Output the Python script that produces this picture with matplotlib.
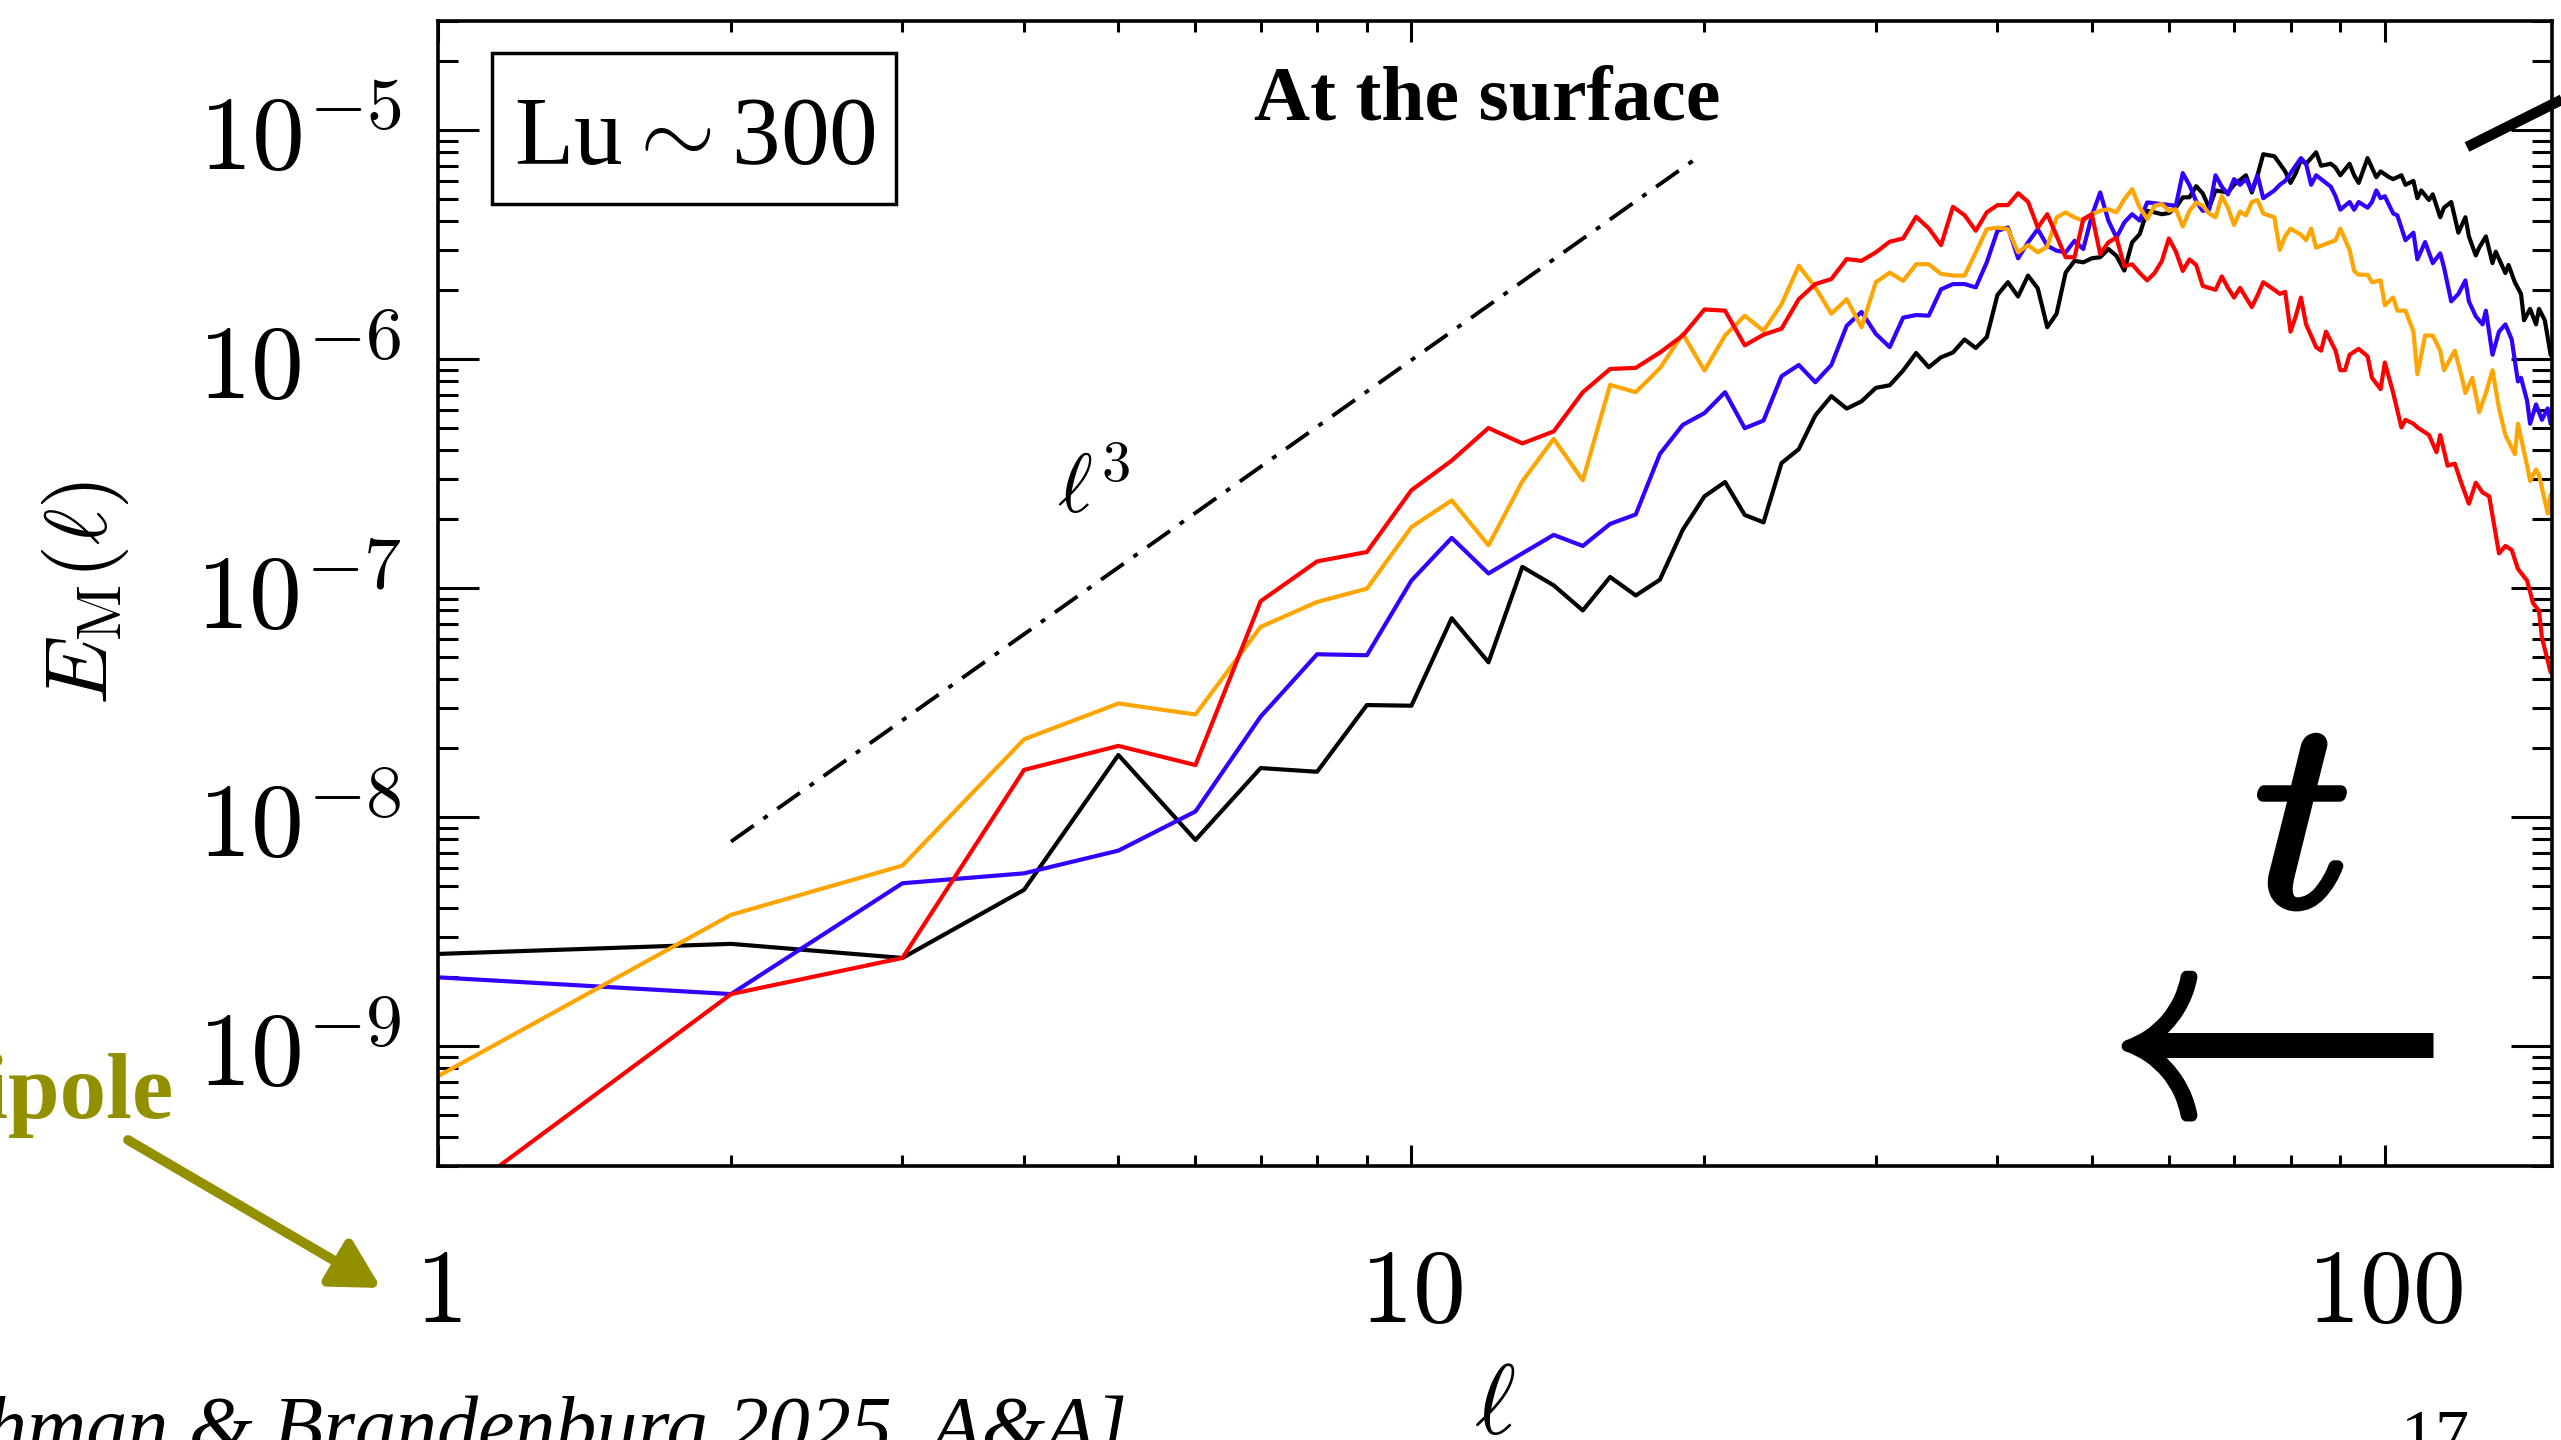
#!/usr/bin/env python3
import numpy as np
import matplotlib
matplotlib.use("Agg")
import matplotlib.pyplot as plt
import matplotlib.patheffects as pe
from matplotlib.lines import Line2D
from matplotlib.patches import Rectangle, FancyArrowPatch
from matplotlib.ticker import FixedLocator, FixedFormatter, LogLocator, NullFormatter


# spectra E_M(l) at the surface, four times
ell_black = [1, 2, 3, 4, 5, 6, 7, 8, 9, 10, 11, 12, 13, 14, 15, 16, 17, 18, 19, 20,
             21, 22, 23, 24, 25, 26, 27, 28, 29, 30, 31, 32, 33, 34, 35, 36, 37, 38, 39, 40,
             41, 42, 43, 44, 45, 46, 47, 48, 49, 50, 51, 52, 53, 54, 55, 56, 57, 58, 59, 60,
             61, 62, 63, 64, 65, 66, 67, 69, 70, 72, 73, 74, 75, 77, 78, 79, 80, 81, 82, 83,
             84, 85, 86, 88, 89, 90, 92, 93, 94, 96, 98, 99, 101, 102, 104, 105, 107, 108, 109, 111,
             112, 114, 115, 117, 119, 121, 122, 124, 125, 127, 129, 130, 133, 134, 136, 138, 139, 141, 143, 144,
             146, 148, 149]
em_black = [2.53e-9, 2.80e-9, 2.43e-9, 4.82e-9, 1.87e-8, 7.96e-9, 1.64e-8, 1.58e-8, 3.09e-8, 3.07e-8,
            7.4e-8, 4.75e-8, 1.24e-7, 1.03e-7, 8.0e-8, 1.12e-7, 9.3e-8, 1.09e-7, 1.8e-7, 2.52e-7,
            2.91e-7, 2.09e-7, 1.94e-7, 3.52e-7, 4.05e-7, 5.69e-7, 6.9e-7, 6.09e-7, 6.55e-7, 7.5e-7,
            7.7e-7, 8.93e-7, 1.065e-6, 9.23e-7, 1.02e-6, 1.07e-6, 1.22e-6, 1.12e-6, 1.25e-6, 1.91e-6,
            2.17e-6, 1.88e-6, 2.32e-6, 2.04e-6, 1.38e-6, 1.58e-6, 2.39e-6, 2.69e-6, 2.65e-6, 2.76e-6,
            2.79e-6, 3.03e-6, 2.83e-6, 2.44e-6, 3.24e-6, 3.52e-6, 4.45e-6, 4.38e-6, 4.30e-6, 4.35e-6,
            4.60e-6, 5.09e-6, 5.1e-6, 5.7e-6, 5.3e-6, 4.59e-6, 5.46e-6, 5.35e-6, 5.78e-6, 6.36e-6,
            5.35e-6, 6.36e-6, 7.86e-6, 7.7e-6, 7.14e-6, 6.61e-6, 5.89e-6, 6.49e-6, 7.42e-6, 7.14e-6,
            7.56e-6, 8.01e-6, 7.0e-6, 7.14e-6, 6.87e-6, 6.36e-6, 7.14e-6, 6.36e-6, 5.89e-6, 7.56e-6,
            6.24e-6, 6.61e-6, 6.24e-6, 6.12e-6, 6.36e-6, 5.78e-6, 6.01e-6, 5.05e-6, 5.46e-6, 4.96e-6,
            5.25e-6, 4.17e-6, 4.59e-6, 4.86e-6, 3.57e-6, 4.17e-6, 3.44e-6, 2.84e-6, 3.07e-6, 3.44e-6,
            2.63e-6, 2.95e-6, 2.38e-6, 2.58e-6, 2.17e-6, 1.93e-6, 1.48e-6, 1.66e-6, 1.42e-6, 1.66e-6,
            1.48e-6, 1.05e-6, 1.0e-6]

ell_blue = [1, 2, 3, 4, 5, 6, 7, 8, 9, 10, 11, 12, 13, 14, 15, 16, 17, 18, 19, 20,
            21, 22, 23, 24, 25, 26, 27, 28, 29, 30, 31, 32, 33, 34, 35, 36, 37, 38, 39, 40,
            41, 42, 43, 44, 45, 46, 47, 48, 49, 50, 51, 52, 53, 54, 55, 56, 57, 58, 59, 60,
            61, 62, 63, 64, 65, 66, 67, 68, 69, 70, 71, 72, 73, 74, 75, 77, 78, 79, 80, 82,
            83, 84, 85, 86, 88, 89, 90, 92, 93, 94, 96, 97, 98, 99, 100, 102, 103, 105, 107, 108,
            110, 112, 114, 115, 117, 119, 121, 122, 124, 126, 127, 129, 131, 133, 135, 137, 138, 140, 141, 143,
            145, 147, 148, 149]
em_blue = [2.0e-9, 1.69e-9, 5.15e-9, 5.69e-9, 7.15e-9, 1.06e-8, 2.75e-8, 5.15e-8, 5.10e-8, 1.08e-7,
           1.66e-7, 1.16e-7, 1.42e-7, 1.71e-7, 1.53e-7, 1.91e-7, 2.10e-7, 3.86e-7, 5.17e-7, 5.82e-7,
           7.18e-7, 5.0e-7, 5.40e-7, 8.43e-7, 9.44e-7, 7.94e-7, 9.44e-7, 1.40e-6, 1.61e-6, 1.29e-6,
           1.13e-6, 1.52e-6, 1.56e-6, 1.55e-6, 2.02e-6, 2.13e-6, 2.13e-6, 2.06e-6, 2.65e-6, 3.64e-6,
           3.76e-6, 2.76e-6, 3.24e-6, 3.70e-6, 3.13e-6, 2.98e-6, 2.93e-6, 3.29e-6, 3.03e-6, 4.23e-6,
           5.35e-6, 4.03e-6, 3.40e-6, 3.96e-6, 4.30e-6, 4.03e-6, 4.84e-6, 4.8e-6, 4.76e-6, 4.72e-6,
           4.68e-6, 6.5e-6, 5.75e-6, 4.9e-6, 4.45e-6, 4.5e-6, 6.36e-6, 5.67e-6, 5.25e-6, 6.12e-6,
           5.78e-6, 6.12e-6, 5.46e-6, 6.36e-6, 5.05e-6, 5.46e-6, 5.78e-6, 6.01e-6, 6.49e-6, 7.56e-6,
           7.14e-6, 5.78e-6, 6.36e-6, 6.12e-6, 5.67e-6, 5.15e-6, 4.5e-6, 4.86e-6, 4.5e-6, 4.86e-6,
           4.59e-6, 4.86e-6, 5.46e-6, 5.05e-6, 5.15e-6, 4.33e-6, 4.25e-6, 3.31e-6, 3.57e-6, 2.73e-6,
           3.25e-6, 2.63e-6, 2.9e-6, 2.53e-6, 1.79e-6, 1.93e-6, 2.21e-6, 1.79e-6, 1.54e-6, 1.42e-6,
           1.63e-6, 1.046e-6, 1.32e-6, 1.42e-6, 1.22e-6, 8.0e-7, 8.3e-7, 6.59e-7, 5.23e-7, 6.35e-7,
           5.44e-7, 6.1e-7, 5.23e-7, 6.59e-7]

ell_orange = [1, 2, 3, 4, 5, 6, 7, 8, 9, 10, 11, 12, 13, 14, 15, 16, 17, 18, 19, 20,
              21, 22, 23, 24, 25, 26, 27, 28, 29, 30, 31, 32, 33, 34, 35, 36, 37, 38, 39, 40,
              41, 42, 43, 44, 45, 46, 47, 48, 49, 50, 51, 52, 53, 54, 55, 56, 57, 58, 59, 60,
              61, 62, 63, 64, 65, 66, 67, 68, 69, 70, 71, 72, 73, 74, 75, 77, 78, 79, 80, 82,
              83, 84, 85, 87, 89, 90, 92, 93, 94, 96, 97, 99, 100, 102, 103, 105, 107, 108, 110, 112,
              114, 115, 118, 120, 121, 123, 125, 127, 129, 131, 133, 136, 137, 140, 141, 143, 144, 147, 148, 149]
em_orange = [7.4e-10, 3.75e-9, 6.15e-9, 2.19e-8, 3.14e-8, 2.81e-8, 6.78e-8, 8.71e-8, 9.96e-8, 1.85e-7,
             2.42e-7, 1.54e-7, 2.93e-7, 4.49e-7, 2.96e-7, 7.73e-7, 7.18e-7, 9.14e-7, 1.29e-6, 8.93e-7,
             1.27e-6, 1.55e-6, 1.33e-6, 1.74e-6, 2.56e-6, 2.06e-6, 1.58e-6, 1.83e-6, 1.38e-6, 2.17e-6,
             2.39e-6, 2.2e-6, 2.60e-6, 2.60e-6, 2.36e-6, 2.32e-6, 2.32e-6, 2.93e-6, 3.70e-6, 3.76e-6,
             3.70e-6, 2.93e-6, 3.15e-6, 2.93e-6, 3.1e-6, 4.16e-6, 4.38e-6, 4.16e-6, 4.03e-6, 4.30e-6,
             4.45e-6, 4.52e-6, 4.38e-6, 5.0e-6, 5.53e-6, 4.60e-6, 4.1e-6, 4.68e-6, 4.76e-6, 4.45e-6,
             4.52e-6, 3.80e-6, 4.45e-6, 4.84e-6, 4.68e-6, 4.33e-6, 4.17e-6, 5.15e-6, 4.59e-6, 3.86e-6,
             4.42e-6, 4.25e-6, 4.86e-6, 4.96e-6, 4.33e-6, 4.17e-6, 3.0e-6, 3.44e-6, 3.72e-6, 3.5e-6,
             3.31e-6, 3.72e-6, 3.07e-6, 3.19e-6, 3.31e-6, 3.72e-6, 3.0e-6, 2.43e-6, 2.34e-6, 2.34e-6,
             2.17e-6, 2.21e-6, 1.72e-6, 1.86e-6, 1.63e-6, 1.63e-6, 1.32e-6, 8.6e-7, 1.27e-6, 1.27e-6,
             1.09e-6, 8.96e-7, 1.09e-6, 8.3e-7, 7.12e-7, 8.3e-7, 5.87e-7, 7.12e-7, 8.96e-7, 6.1e-7,
             4.67e-7, 3.85e-7, 5.23e-7, 3.43e-7, 2.94e-7, 3.30e-7, 3.12e-7, 2.12e-7, 2.57e-7, 2.5e-7]

ell_red = [1, 2, 3, 4, 5, 6, 7, 8, 9, 10, 11, 12, 13, 14, 15, 16, 17, 18, 19, 20,
           21, 22, 23, 24, 25, 26, 27, 28, 29, 30, 31, 32, 33, 34, 35, 36, 37, 38, 39, 40,
           41, 42, 43, 44, 45, 46, 47, 48, 49, 50, 51, 52, 53, 54, 55, 56, 57, 58, 59, 60,
           61, 62, 63, 64, 65, 67, 68, 69, 70, 71, 73, 74, 75, 77, 78, 79, 80, 81, 82, 83,
           85, 86, 87, 89, 90, 91, 92, 94, 96, 97, 99, 100, 102, 104, 105, 107, 108, 111, 113, 114,
           116, 118, 120, 122, 124, 126, 128, 131, 133, 135, 137, 140, 142, 144, 145, 147, 148, 149]
em_red = [1.9e-10, 1.69e-9, 2.43e-9, 1.61e-8, 2.05e-8, 1.69e-8, 8.78e-8, 1.31e-7, 1.44e-7, 2.68e-7,
          3.61e-7, 5.01e-7, 4.29e-7, 4.84e-7, 7.18e-7, 9.07e-7, 9.17e-7, 1.07e-6, 1.27e-6, 1.65e-6,
          1.63e-6, 1.15e-6, 1.28e-6, 1.36e-6, 1.83e-6, 2.13e-6, 2.24e-6, 2.74e-6, 2.69e-6, 2.93e-6,
          3.26e-6, 3.37e-6, 4.19e-6, 3.73e-6, 3.15e-6, 4.63e-6, 4.26e-6, 3.64e-6, 4.38e-6, 4.71e-6,
          4.71e-6, 5.31e-6, 4.87e-6, 3.76e-6, 4.30e-6, 3.46e-6, 2.79e-6, 2.79e-6, 4.09e-6, 4.30e-6,
          2.88e-6, 3.24e-6, 3.40e-6, 2.55e-6, 2.6e-6, 2.38e-6, 2.21e-6, 2.38e-6, 2.68e-6, 3.37e-6,
          2.95e-6, 2.43e-6, 2.73e-6, 2.58e-6, 2.09e-6, 2.01e-6, 2.3e-6, 2.05e-6, 1.86e-6, 2.05e-6,
          1.69e-6, 1.9e-6, 2.17e-6, 2.01e-6, 1.93e-6, 1.97e-6, 1.32e-6, 1.54e-6, 1.86e-6, 1.42e-6,
          1.13e-6, 1.09e-6, 1.32e-6, 1.09e-6, 8.96e-7, 8.96e-7, 1.046e-6, 1.11e-6, 1.03e-6, 8.3e-7,
          7.4e-7, 9.68e-7, 7.12e-7, 5.04e-7, 5.44e-7, 5.23e-7, 5.04e-7, 4.67e-7, 3.93e-7, 4.67e-7,
          3.43e-7, 3.5e-7, 2.83e-7, 2.34e-7, 2.89e-7, 2.62e-7, 2.52e-7, 1.42e-7, 1.53e-7, 1.47e-7,
          1.215e-7, 1.08e-7, 8.6e-8, 7.97e-8, 6.08e-8, 4.83e-8, 4.3e-8, 4.83e-8]

# l^3 guide line (end points)
ref_ell = [2.0, 19.5]
ref_em = [7.83e-9, 7.4e-6]

xticks = [1, 10, 100]
xtick_labels = ["$1$", "$10$", "$100$"]
yticks = [1e-9, 1e-8, 1e-7, 1e-6, 1e-5]
ytick_labels = ["$10^{-9}$", "$10^{-8}$", "$10^{-7}$", "$10^{-6}$", "$10^{-5}$"]

W, H = 2561, 1440
OLIVE = "#939000"
SERIF = "Liberation Serif"


def fx(px):
    return px / W


def fy(py):
    # pixel rows are counted from the top of the slide
    return 1 - py / H


def setup_axes(fig):
    ax = fig.add_axes([fx(438), fy(1166), 2114 / W, 1145 / H])
    ax.set_xscale("log")
    ax.set_yscale("log")
    ax.set_xlim(1, 148.5)
    ax.set_ylim(3e-10, 3e-5)

    ax.xaxis.set_major_locator(FixedLocator(xticks))
    ax.xaxis.set_major_formatter(FixedFormatter(xtick_labels))
    ax.xaxis.set_minor_locator(LogLocator(base=10, subs=np.arange(2, 10), numticks=50))
    ax.xaxis.set_minor_formatter(NullFormatter())
    ax.yaxis.set_major_locator(FixedLocator(yticks))
    ax.yaxis.set_major_formatter(FixedFormatter(ytick_labels))
    ax.yaxis.set_minor_locator(LogLocator(base=10, subs=np.arange(2, 10), numticks=50))
    ax.yaxis.set_minor_formatter(NullFormatter())

    ax.tick_params(which="both", direction="in", top=True, right=True,
                   width=2.2, color="black")
    ax.tick_params(axis="x", which="major", length=15, pad=55, labelsize=76)
    ax.tick_params(axis="x", which="minor", length=8)
    ax.tick_params(axis="y", which="major", length=29.5, pad=26, labelsize=76)
    ax.tick_params(axis="y", which="minor", length=14.4)
    for s in ax.spines.values():
        s.set_linewidth(2.6)

    ax.set_xlabel(r"$\ell$", fontsize=71)
    ax.xaxis.set_label_coords(0.5, (1166 - 1358) / 1145)
    ax.set_ylabel(r"$E_{\rm M}(\ell)$", fontsize=63)
    ax.yaxis.set_label_coords((131 - 438) / 2114, 0.5)
    return ax


def plot_spectra(ax):
    lw = 3.0
    ax.plot(ell_black, em_black, color="black", lw=lw)
    ax.plot(ell_blue, em_blue, color="#3300ff", lw=lw)
    ax.plot(ell_orange, em_orange, color="#ffa500", lw=lw)
    ax.plot(ell_red, em_red, color="#ff0000", lw=lw)
    ax.plot(ref_ell, ref_em, color="black", lw=2.8,
            dashes=[20, 8.6, 3.6, 8.6], dash_capstyle="butt")


def annotate_slide(fig):
    # boxed Lundquist number
    fig.add_artist(Rectangle((fx(492), fy(204)), (896 - 492) / W, (204 - 53) / H,
                             transform=fig.transFigure, fill=False, lw=2.5,
                             edgecolor="black"))
    fig.text(fx(695), fy(164), r"Lu$\sim$300", ha="center", va="baseline",
             family=SERIF, fontsize=70)

    fig.text(fx(1487), fy(119), "At the surface", ha="center", va="baseline",
             family=SERIF, fontweight="bold", fontsize=56)

    fig.text(fx(1094), fy(490), r"$\ell^3$", ha="center", va="center", fontsize=60)

    # time arrow
    tt = fig.text(fx(2300), fy(906), r"$t$", ha="center", va="baseline", fontsize=194)
    tt.set_path_effects([pe.Stroke(linewidth=5, foreground="black"), pe.Normal()])
    head = fig.text(fx(2060), fy(1041), r"$\leftarrow$", ha="left", va="center",
                    fontsize=200)
    head.set_path_effects([pe.Stroke(linewidth=4, foreground="black"), pe.Normal()])
    fig.add_artist(Line2D([fx(2150), fx(2433)], [fy(1045), fy(1045)],
                          transform=fig.transFigure, color="black", lw=18,
                          solid_capstyle="butt"))

    # piece of an arrow sticking in from the right edge
    fig.add_artist(Line2D([fx(2467), fx(2700)], [fy(147), fy(30.5)],
                          transform=fig.transFigure, color="black", lw=7.6,
                          solid_capstyle="butt"))

    # dipole pointer
    fig.text(fx(174), fy(1118), "Dipole", ha="right", va="baseline",
             family=SERIF, fontweight="bold", fontsize=67, color=OLIVE)
    fig.add_artist(FancyArrowPatch((fx(128), fy(1140)), (fx(381), fy(1288)),
                                   transform=fig.transFigure,
                                   arrowstyle="-|>,head_length=2.9,head_width=1.6",
                                   mutation_scale=10, lw=7, color=OLIVE,
                                   shrinkA=0, shrinkB=0))

    # footer
    fig.text(fx(1127), fy(1453), "[Rahman & Brandenburg 2025, A&A]", ha="right",
             va="baseline", family=SERIF, style="italic", fontsize=59)
    fig.text(fx(2435), fy(1456), "17", ha="center", va="baseline",
             family=SERIF, fontsize=49)


def main():
    plt.rcParams["mathtext.fontset"] = "cm"
    plt.rcParams["lines.scale_dashes"] = False

    fig = plt.figure(figsize=(W / 100, H / 100), dpi=100)
    ax = setup_axes(fig)
    plot_spectra(ax)
    annotate_slide(fig)
    fig.savefig("out.png", dpi=100)
    plt.close(fig)


if __name__ == "__main__":
    main()
